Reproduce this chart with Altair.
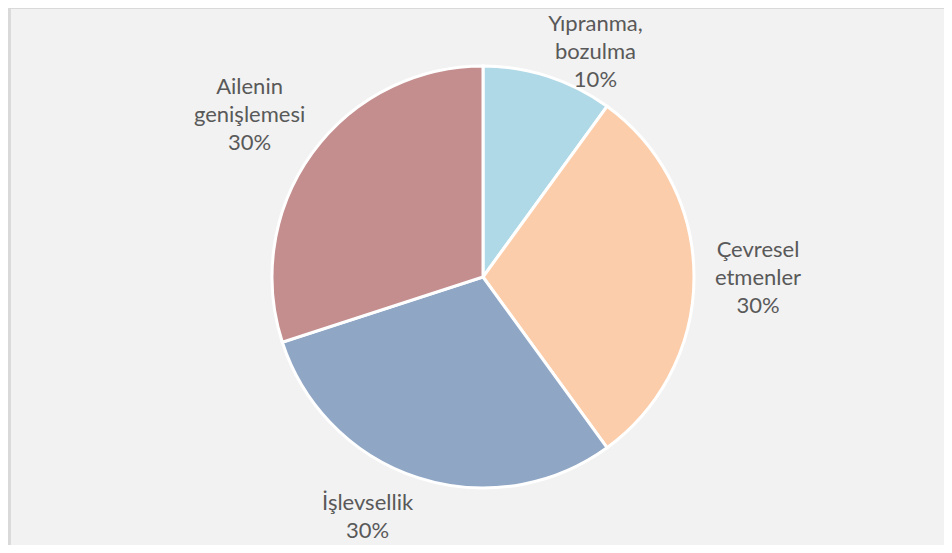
import altair as alt
import pandas as pd

# ---- data ----
categories = ["Yıpranma, bozulma", "Çevresel etmenler", "İşlevsellik", "Ailenin genişlemesi"]
label_lines = ["Yıpranma,\nbozulma", "Çevresel\netmenler", "İşlevsellik", "Ailenin\ngenişlemesi"]
values = [10, 30, 30, 30]
colors = ["#b0d9e7", "#fbcdaa", "#8fa6c5", "#c48e8e"]

df = pd.DataFrame({"cat": categories, "lines": label_lines, "value": values,
                   "order": list(range(len(categories)))})

W, H = 936, 537
CX, CY = 475, 269
R = 211

base = alt.Chart(df).transform_window(
    cum="sum(value)", sort=[alt.SortField("order")], frame=[None, 0]
).transform_joinaggregate(total="sum(value)").transform_calculate(
    start="datum.cum - datum.value",
    mid="datum.cum - datum.value/2",
    label="datum.lines + '\\n' + format(datum.value/datum.total, '.0%')",
)

theta_scale = alt.Scale(domain=[0, 100])

arcs = base.mark_arc(outerRadius=R, stroke="white", strokeWidth=3).encode(
    theta=alt.Theta("start:Q", scale=theta_scale),
    theta2="cum:Q",
    color=alt.Color("cat:N", scale=alt.Scale(domain=categories, range=colors), legend=None),
    x=alt.value(CX), y=alt.value(CY),
)

# per-label nudges (style only), like Excel's best-fit placement
nudges = {
    "Yıpranma, bozulma": (29, 4),
    "Çevresel etmenler": (5, -27),
    "İşlevsellik": (-32, -31),
    "Ailenin genişlemesi": (-15, -31),
}

text_layers = []
for c in categories:
    dx, dy = nudges[c]
    t = base.transform_filter(alt.datum.cat == c).mark_text(
        radius=270, fontSize=22, font="Lato", color="#595959",
        lineBreak="\n", lineHeight=28, align="center", baseline="middle",
        dx=dx, dy=dy,
    ).encode(
        theta=alt.Theta("mid:Q", scale=theta_scale),
        text="label:N",
        x=alt.value(CX), y=alt.value(CY),
    )
    text_layers.append(t)

border_left = alt.Chart(df).mark_rule(color="#d9d9d9", strokeWidth=3).encode(
    x=alt.value(1), y=alt.value(0), y2=alt.value(H))
border_top = alt.Chart(df).mark_rule(color="#d9d9d9", strokeWidth=2).encode(
    x=alt.value(0), x2=alt.value(W), y=alt.value(0))

chart = alt.layer(arcs, *text_layers, border_left, border_top).properties(
    width=W, height=H, background="#f2f2f2",
    autosize=alt.AutoSizeParams(type="none"), padding=0,
).configure_view(stroke=None)

chart.save("out.html", embed_options={"renderer": "svg", "actions": False})
